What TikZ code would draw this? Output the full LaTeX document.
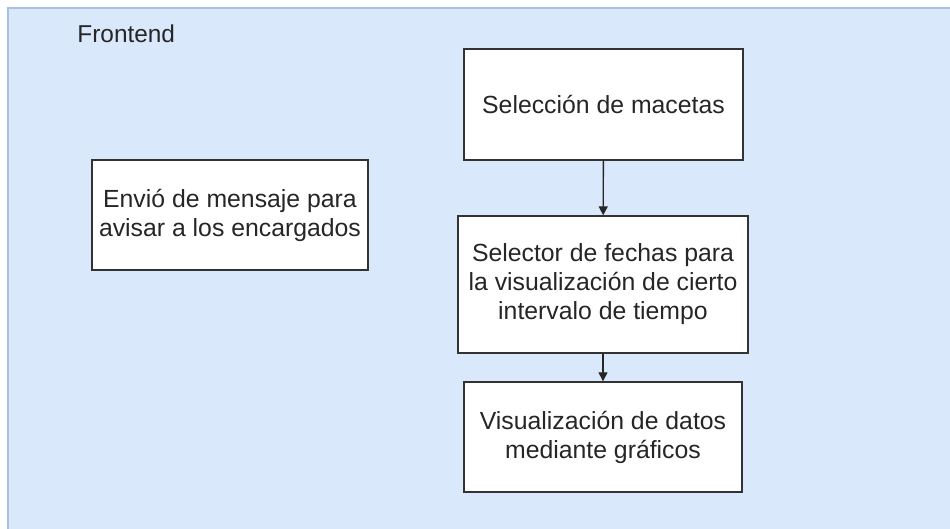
\documentclass[tikz,border=0pt]{standalone}
\usepackage{fontspec}
\setmainfont{Liberation Sans}
\usetikzlibrary{arrows.meta}
\definecolor{frontfill}{HTML}{DAE8FC}
\definecolor{frontline}{HTML}{A9C0E2}
\definecolor{textgray}{HTML}{262626}
\begin{document}
\begin{tikzpicture}[x=0.5pt,y=-0.5pt,
        paso/.style={draw=black!80,fill=white,line width=0.7pt,inner sep=0pt,
            align=center,font=\fontsize{12.4}{14.5}\selectfont,text=textgray},
        flecha/.style={draw=black!85,line width=0.7pt,-{Triangle[length=4.5pt,width=4.5pt]}}]
        \useasboundingbox (0,0) rectangle (950,529);
        % zona frontend
        \fill[frontfill] (8,8) rectangle (950,529);
        \draw[frontline,line width=1pt] (8,529) -- (8,8) -- (950,8);
        \node[anchor=west,font=\fontsize{12.2}{14.5}\selectfont,text=textgray,inner sep=0pt] (frontend) at (77,34) {Frontend};
        % pasos
        \node[paso,minimum width=139.5pt,minimum height=55.5pt] (seleccion) at (603.5,104.5) {Selección de macetas};
        \node[paso,minimum width=145pt,minimum height=68.5pt] (fechas) at (603,284.5) {Selector de fechas para\\la visualización de cierto\\intervalo de tiempo};
        \node[paso,minimum width=139pt,minimum height=55pt] (graficos) at (603,437) {Visualización de datos\\mediante gráficos};
        \node[paso,minimum width=138pt,minimum height=55pt] (mensaje) at (230,215) {Envió de mensaje para\\avisar a los encargados};
        \draw[flecha] (seleccion) -- (fechas);
        \draw[flecha] (fechas) -- (graficos);
    \end{tikzpicture}
\end{document}
